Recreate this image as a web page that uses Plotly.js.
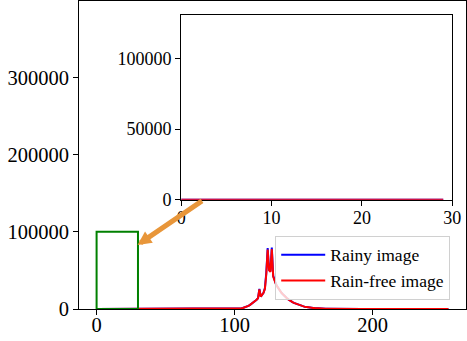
<!DOCTYPE html>
<html>
<head>
<meta charset="utf-8">
<script src="https://cdn.plot.ly/plotly-3.0.1.min.js"></script>
<style>
  html, body { margin: 0; padding: 0; background: #fff; }
  #chart { width: 467px; height: 341px; }
</style>
</head>
<body>
<div id="chart"></div>
<script>
// pixel-intensity histograms, bins 0..255 (counts)
const rainy = [
  0, 0, 0, 0, 0, 0, 0, 0, 0, 0, 0, 0, 0, 0, 0, 0, 0, 0, 0, 0,
  0, 0, 0, 0, 0, 0, 0, 0, 0, 0, 0, 0, 0, 0, 0, 0, 0, 0, 0, 0,
  0, 0, 0, 0, 0, 0, 0, 0, 0, 0, 0, 0, 0, 0, 0, 0, 0, 0, 0, 0,
  0, 0, 0, 0, 0, 0, 0, 0, 0, 0, 0, 0, 0, 0, 0, 0, 0, 0, 0, 0,
  0, 0, 0, 0, 0, 0, 0, 0, 0, 0, 0, 0, 0, 0, 0, 0, 0, 0, 0, 0,
  100, 150, 250, 400, 600, 900, 1300, 1800, 2400, 3100,
  4000, 5000, 6200, 7500, 9000, 10500, 12000, 14000, 26000, 16000,
  18000, 21000, 27000, 47000, 79000, 51000, 49000, 79500, 43000, 37000,
  32500, 29000, 26000, 23500, 21000, 19000, 17000, 15500, 14000, 12500,
  11000, 10000, 9000, 8000, 7200, 6400, 5700, 5000, 4400, 3900,
  3400, 3000, 2600, 2300, 2000, 1800, 1600, 1400, 1200, 1000,
  900, 800, 700, 600, 500, 450, 400, 350, 300, 250,
  200, 180, 160, 140, 120, 100, 80, 60, 50, 40,
  30, 25, 20, 15, 10, 0, 0, 0, 0, 0,
  0, 0, 0, 0, 0, 0, 0, 0, 0, 0, 0, 0, 0, 0, 0, 0, 0, 0, 0, 0,
  0, 0, 0, 0, 0, 0, 0, 0, 0, 0, 0, 0, 0, 0, 0, 0, 0, 0, 0, 0,
  0, 0, 0, 0, 0, 0, 0, 0, 0, 0, 0, 0, 0, 0, 0, 0, 0, 0, 0, 0,
  0, 0, 0, 0, 0, 0
];
const rainFree = [
  0, 0, 0, 0, 0, 0, 0, 0, 0, 0, 0, 0, 0, 0, 0, 0, 0, 0, 0, 0,
  0, 0, 0, 0, 0, 0, 0, 0, 0, 0, 0, 0, 0, 0, 0, 0, 0, 0, 0, 0,
  0, 0, 0, 0, 0, 0, 0, 0, 0, 0, 0, 0, 0, 0, 0, 0, 0, 0, 0, 0,
  0, 0, 0, 0, 0, 0, 0, 0, 0, 0, 0, 0, 0, 0, 0, 0, 0, 0, 0, 0,
  0, 0, 0, 0, 0, 0, 0, 0, 0, 0, 0, 0, 0, 0, 0, 0, 0, 0, 0, 0,
  100, 150, 250, 400, 600, 900, 1300, 1800, 2400, 3100,
  4000, 5000, 6200, 7500, 9000, 10500, 12000, 14000, 25500, 16000,
  18000, 21000, 26000, 45000, 77000, 50000, 48000, 77500, 42000, 36000,
  32000, 29000, 26000, 23500, 21000, 19000, 17000, 15500, 14000, 12500,
  11000, 10000, 9000, 8000, 7200, 6400, 5700, 5000, 4400, 3900,
  3400, 3000, 2600, 2300, 2000, 1800, 1600, 1400, 1200, 1000,
  900, 800, 700, 600, 500, 450, 400, 350, 300, 250,
  200, 180, 160, 140, 120, 100, 80, 60, 50, 40,
  30, 25, 20, 15, 10, 0, 0, 0, 0, 0,
  0, 0, 0, 0, 0, 0, 0, 0, 0, 0, 0, 0, 0, 0, 0, 0, 0, 0, 0, 0,
  0, 0, 0, 0, 0, 0, 0, 0, 0, 0, 0, 0, 0, 0, 0, 0, 0, 0, 0, 0,
  0, 0, 0, 0, 0, 0, 0, 0, 0, 0, 0, 0, 0, 0, 0, 0, 0, 0, 0, 0,
  0, 0, 0, 0, 0, 0
];
const bins = rainy.map((_, i) => i);
const zoomBins = 30;            // inset shows bins 0..29
const zoomBox = [0, 30, 0, 100000];
const arrowHead = [29.7, 83000];
const arrowTail = [77.5, 141400];

const serif = '"Liberation Serif", "Times New Roman", serif';

const traces = [
  { x: bins, y: rainy, type: 'scatter', mode: 'lines', name: 'Rainy image',
    line: { color: '#0000ff', width: 2 } },
  { x: bins, y: rainFree, type: 'scatter', mode: 'lines', name: 'Rain-free image',
    line: { color: '#ff0000', width: 2 } },
  { x: bins.slice(0, zoomBins), y: rainy.slice(0, zoomBins), type: 'scatter', mode: 'lines',
    xaxis: 'x2', yaxis: 'y2', showlegend: false, line: { color: '#0000ff', width: 2 } },
  { x: bins.slice(0, zoomBins), y: rainFree.slice(0, zoomBins), type: 'scatter', mode: 'lines',
    xaxis: 'x2', yaxis: 'y2', showlegend: false, line: { color: '#ff0000', width: 2 } },
];

const axisBase = {
  showline: true, linecolor: '#000', linewidth: 1, mirror: true,
  showgrid: false, zeroline: false,
  ticks: 'outside', ticklen: 5, tickwidth: 1, tickcolor: '#000',
  tickformat: 'd',
};

const layout = {
  width: 467, height: 341,
  margin: { l: 79, r: 1, t: 1, b: 32 },
  paper_bgcolor: '#fff', plot_bgcolor: '#fff',
  font: { family: serif, color: '#000', size: 20.5 },
  showlegend: true,
  legend: {
    x: 0.507, y: 0.03, xanchor: 'left', yanchor: 'bottom',
    bgcolor: 'rgba(255,255,255,0.8)', bordercolor: '#d0d0d0', borderwidth: 1,
    font: { family: serif, size: 17.5 }, itemwidth: 44,
  },
  xaxis: { ...axisBase, range: [-12.75, 267.75], tickvals: [0, 100, 200], domain: [0, 1],
    ticklabelstandoff: -8 },
  yaxis: { ...axisBase, range: [0, 399000], tickvals: [0, 100000, 200000, 300000], domain: [0, 1] },
  xaxis2: { ...axisBase, anchor: 'y2', range: [0, 30], tickvals: [0, 10, 20, 30],
    domain: [0.264, 0.9646], tickfont: { size: 18 }, ticklabelstandoff: -3 },
  yaxis2: { ...axisBase, anchor: 'x2', range: [0, 130500], tickvals: [0, 50000, 100000],
    domain: [0.3545, 0.9536], tickfont: { size: 18 } },
  shapes: [{
    type: 'rect', xref: 'x', yref: 'y',
    x0: zoomBox[0], x1: zoomBox[1], y0: zoomBox[2], y1: zoomBox[3],
    line: { color: '#008000', width: 2 },
  }],
  annotations: [{
    xref: 'x', yref: 'y', axref: 'x', ayref: 'y',
    x: arrowHead[0], y: arrowHead[1], ax: arrowTail[0], ay: arrowTail[1],
    text: '', showarrow: true, arrowhead: 2, arrowsize: 0.55, arrowwidth: 5,
    arrowcolor: '#e8963a', standoff: 0,
  }],
};

Plotly.newPlot('chart', traces, layout, { displayModeBar: false, staticPlot: true });
</script>
</body>
</html>
